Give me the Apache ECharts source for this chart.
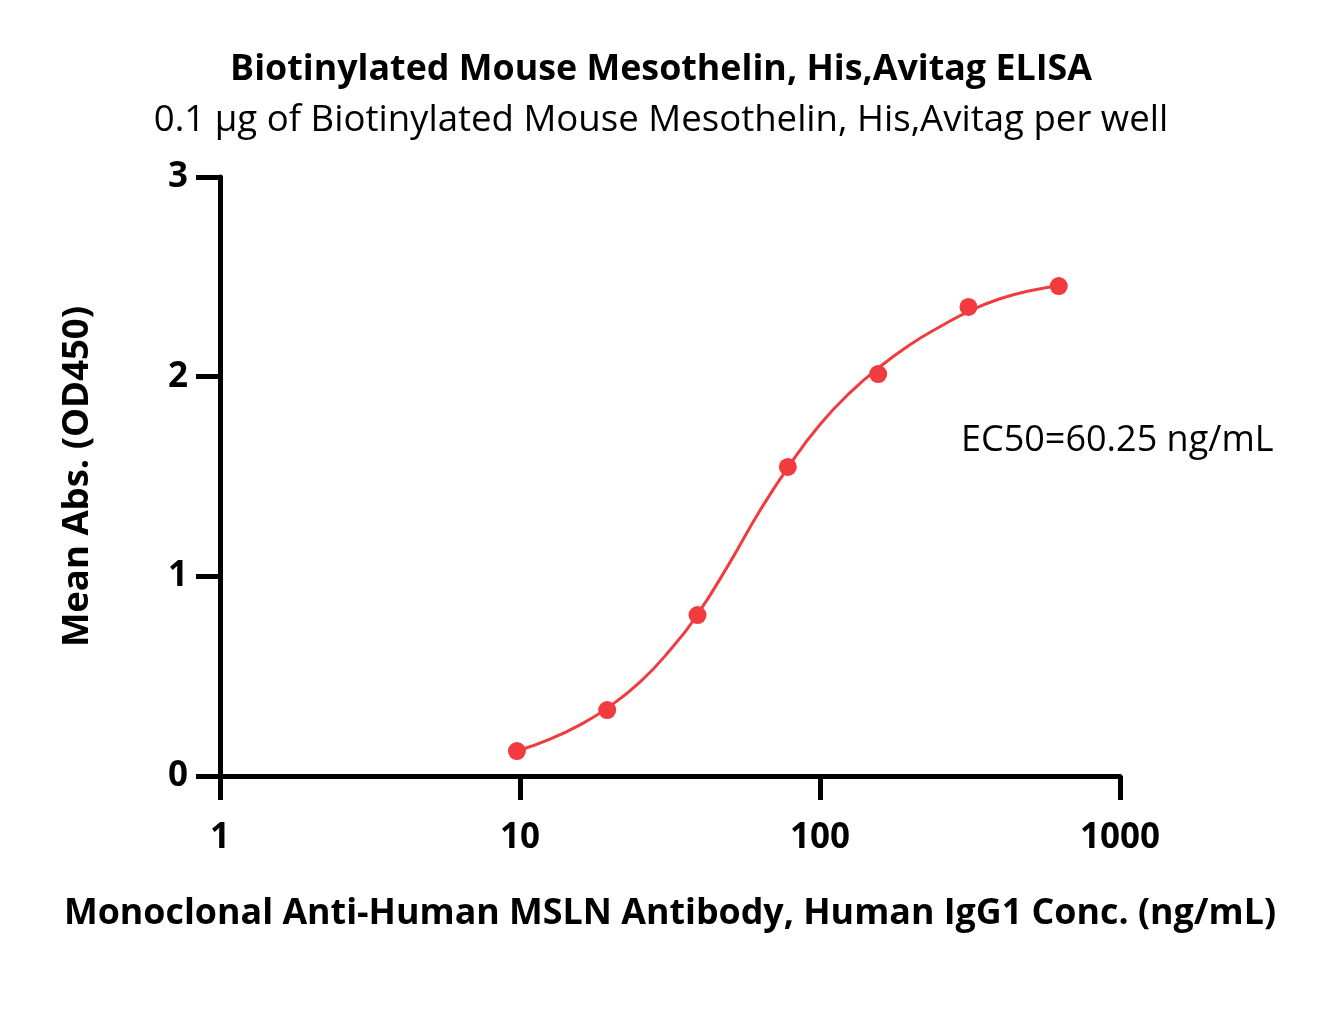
<!DOCTYPE html>
<html>
<head>
<meta charset="utf-8">
<script src="https://cdn.jsdelivr.net/npm/echarts@6/dist/echarts.min.js"></script>
<style>html,body{margin:0;padding:0;background:#fff}#c{width:1322px;height:1032px}</style>
</head>
<body>
<div id="c"></div>
<script>
// Measured data points (concentration ng/mL, mean OD450)
const pointX = [9.766, 19.53, 39.06, 78.13, 156.25, 312.5, 625];
const pointY = [0.125, 0.33, 0.806, 1.548, 2.013, 2.349, 2.454];
// Fitted curve
const curveX = [9.766, 12.6, 15.8, 19.53, 25.1, 31.6, 39.06, 50.1, 63.1, 79.4, 100, 125.9, 158.5, 199.5, 251, 316, 398, 501, 625];
const curveY = [0.125, 0.185, 0.255, 0.34, 0.47, 0.63, 0.81, 1.07, 1.33, 1.56, 1.76, 1.92, 2.05, 2.16, 2.25, 2.33, 2.39, 2.43, 2.455];
const yTicks = [0, 1, 2, 3];
const xTicks = [1, 10, 100, 1000];

const titleText = 'Biotinylated Mouse Mesothelin, His,Avitag ELISA';
const subText = '0.1 \u00b5g of Biotinylated Mouse Mesothelin, His,Avitag per well';
const xName = 'Monoclonal Anti-Human MSLN Antibody, Human IgG1 Conc. (ng/mL)';
const yName = 'Mean Abs. (OD450)';
const ec50Text = 'EC50=60.25 ng/mL';

const FONT = 'Open Sans';
const RED = '#F23B3F';

const chart = echarts.init(document.getElementById('c'));
chart.setOption({
  animation: false,
  backgroundColor: '#fff',
  title: [
    { text: titleText, left: 'center', top: 47, textStyle: { fontFamily: FONT, fontWeight: 'bold', fontSize: 35.8, color: '#000' } },
    { text: subText, left: 'center', top: 97, textStyle: { fontFamily: FONT, fontWeight: 'normal', fontSize: 36.6, color: '#000' } },
    { text: ec50Text, left: 956, top: 418, textStyle: { fontFamily: FONT, fontWeight: 'normal', fontSize: 36, color: '#000' } }
  ],
  grid: { left: 220, right: 202, top: 177, bottom: 256, containLabel: false },
  xAxis: {
    type: 'log', logBase: 10, min: 1, max: 1000,
    name: xName, nameLocation: 'middle', nameGap: 120,
    nameTextStyle: { fontFamily: FONT, fontWeight: 'bold', fontSize: 35.8, color: '#000' },
    axisLine: { lineStyle: { color: '#000', width: 5 } },
    axisTick: { show: true, length: 24, lineStyle: { color: '#000', width: 5 } },
    minorTick: { show: false },
    splitLine: { show: false },
    axisLabel: { margin: 45, fontFamily: FONT, fontWeight: 'bold', fontSize: 35, color: '#000',
      formatter: v => String(Math.round(v)) }
  },
  yAxis: {
    type: 'value', min: 0, max: 3, interval: 1,
    name: yName, nameLocation: 'middle', nameGap: 124, nameRotate: 90,
    nameTextStyle: { fontFamily: FONT, fontWeight: 'bold', fontSize: 36.5, color: '#000' },
    axisLine: { show: true, lineStyle: { color: '#000', width: 5 } },
    axisTick: { show: true, length: 24, lineStyle: { color: '#000', width: 5 } },
    splitLine: { show: false },
    axisLabel: { margin: 32, fontFamily: FONT, fontWeight: 'bold', fontSize: 35, color: '#000' }
  },
  series: [
    {
      type: 'line', smooth: true, showSymbol: false, symbol: 'none',
      data: curveX.map((x, i) => [x, curveY[i]]),
      lineStyle: { color: RED, width: 3 }, z: 2
    },
    {
      type: 'scatter', symbol: 'circle', symbolSize: 18,
      data: pointX.map((x, i) => [x, pointY[i]]),
      itemStyle: { color: RED, opacity: 1 }, z: 3
    }
  ]
});
</script>
</body>
</html>
